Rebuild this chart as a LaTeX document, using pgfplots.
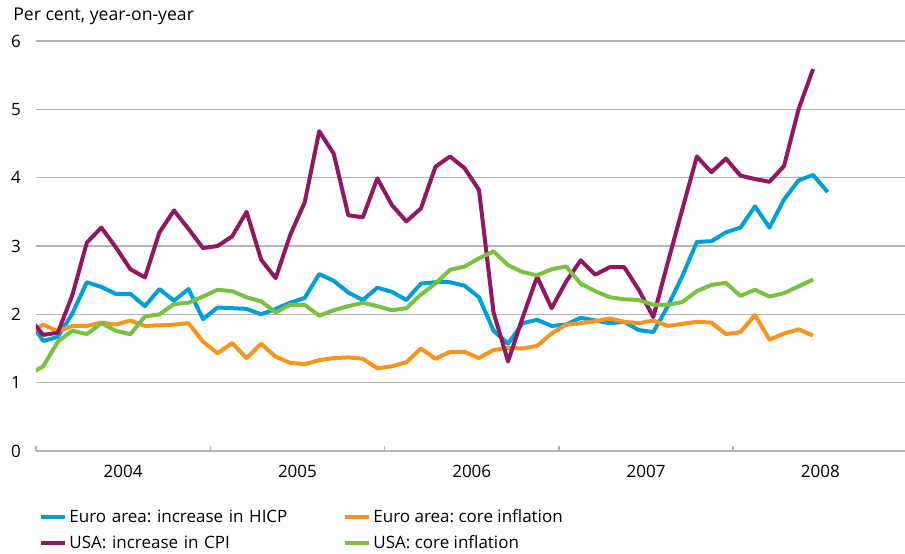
\documentclass[border=0pt]{standalone}
\usepackage{fontspec}
\setmainfont{Open Sans}
\usepackage{pgfplots}
\pgfplotsset{compat=1.18}
\definecolor{cblue}{RGB}{0,159,218}
\definecolor{cpurple}{RGB}{145,24,94}
\definecolor{corange}{RGB}{247,148,29}
\definecolor{cgreen}{RGB}{122,193,67}
\definecolor{cgrid}{RGB}{180,180,180}
\frenchspacing
\begin{document}
\begin{tikzpicture}[font=\fontsize{8.5}{10}\selectfont]
\path[use as bounding box] (0,0) rectangle (452.5pt,-276.5pt);
\node[anchor=base west, inner sep=0pt, font=\fontsize{8.8}{10}\selectfont] at (6.5pt,-10pt) {Per cent, year-on-year};
\begin{axis}[
  at={(18pt,-225.5pt)}, anchor=south west,
  scale only axis, width=434.5pt, height=205pt,
  xmin=0.5, xmax=60.33, ymin=0, ymax=6,
  axis lines*=left,
  x axis line style={cgrid, line width=0.75pt},
  y axis line style={draw=none},
  ytick={0,1,2,3,4,5,6},
  ytick style={draw=none},
  ymajorgrids, grid style={cgrid, line width=0.75pt},
  yticklabel style={xshift=-4pt},
  xtick={0.5,12.5,24.5,36.5,48.5},
  xticklabels={},
  xtick align=inside,
  xtick style={cgrid, line width=0.75pt},
  major tick length=2.5pt,
  extra x ticks={6.5,18.5,30.5,42.5,54.5},
  extra x tick labels={2004,2005,2006,2007,2008},
  extra x tick style={major tick length=0pt, xticklabel style={yshift=-3.5pt}},
  /pgf/number format/assume math mode=true,
  every axis plot/.append style={line width=2pt, line join=round, no marks},
  legend columns=2,
  legend cell align=left,
  legend style={at={(0.0035,-0.1366)}, anchor=north west, draw=none, fill=none,
    inner sep=0pt, row sep=3pt, nodes={inner sep=1pt},
    /tikz/column 2/.style={text width=136pt, align=left}},
  legend image code/.code={\draw[#1] (0pt,0pt) -- (12pt,0pt);},
]
\addplot[cblue] coordinates {
(0,1.92)(1,1.61)(2,1.67)(3,2.01)(4,2.47)(5,2.40)(6,2.30)(7,2.30)(8,2.12)(9,2.37)(10,2.20)(11,2.37)
(12,1.93)(13,2.10)(14,2.09)(15,2.08)(16,2.00)(17,2.08)(18,2.17)(19,2.24)(20,2.59)(21,2.49)(22,2.32)(23,2.21)
(24,2.39)(25,2.33)(26,2.21)(27,2.45)(28,2.47)(29,2.47)(30,2.42)(31,2.25)(32,1.76)(33,1.57)(34,1.87)(35,1.92)
(36,1.83)(37,1.85)(38,1.95)(39,1.91)(40,1.87)(41,1.89)(42,1.77)(43,1.74)(44,2.12)(45,2.56)(46,3.06)(47,3.07)
(48,3.20)(49,3.27)(50,3.58)(51,3.27)(52,3.68)(53,3.96)(54,4.04)(55,3.79)};
\addlegendentry{Euro area: increase in HICP}
\addplot[corange] coordinates {
(0,1.72)(1,1.85)(2,1.75)(3,1.83)(4,1.83)(5,1.88)(6,1.85)(7,1.91)(8,1.83)(9,1.84)(10,1.85)(11,1.87)
(12,1.60)(13,1.43)(14,1.58)(15,1.36)(16,1.57)(17,1.38)(18,1.29)(19,1.27)(20,1.33)(21,1.36)(22,1.37)(23,1.35)
(24,1.21)(25,1.24)(26,1.30)(27,1.50)(28,1.35)(29,1.45)(30,1.45)(31,1.36)(32,1.48)(33,1.51)(34,1.50)(35,1.54)
(36,1.72)(37,1.85)(38,1.87)(39,1.90)(40,1.94)(41,1.89)(42,1.87)(43,1.91)(44,1.83)(45,1.86)(46,1.89)(47,1.88)
(48,1.71)(49,1.74)(50,1.99)(51,1.63)(52,1.72)(53,1.78)(54,1.69)};
\addlegendentry{Euro area: core inflation}
\addplot[cpurple] coordinates {
(0,1.95)(1,1.70)(2,1.73)(3,2.28)(4,3.05)(5,3.27)(6,2.98)(7,2.66)(8,2.54)(9,3.20)(10,3.52)(11,3.25)
(12,2.97)(13,3.00)(14,3.14)(15,3.50)(16,2.80)(17,2.53)(18,3.16)(19,3.64)(20,4.68)(21,4.35)(22,3.45)(23,3.42)
(24,3.99)(25,3.60)(26,3.36)(27,3.55)(28,4.16)(29,4.31)(30,4.14)(31,3.82)(32,2.03)(33,1.31)(34,1.95)(35,2.55)
(36,2.09)(37,2.48)(38,2.79)(39,2.58)(40,2.69)(41,2.69)(42,2.36)(43,1.96)(44,2.76)(45,3.54)(46,4.31)(47,4.08)
(48,4.28)(49,4.03)(50,3.98)(51,3.94)(52,4.17)(53,5.00)(54,5.59)};
\addlegendentry{USA: increase in CPI}
\addplot[cgreen] coordinates {
(0,1.12)(1,1.24)(2,1.60)(3,1.76)(4,1.71)(5,1.87)(6,1.76)(7,1.71)(8,1.97)(9,2.00)(10,2.15)(11,2.17)
(12,2.26)(13,2.36)(14,2.34)(15,2.25)(16,2.19)(17,2.03)(18,2.14)(19,2.14)(20,1.98)(21,2.06)(22,2.12)(23,2.17)
(24,2.12)(25,2.06)(26,2.09)(27,2.29)(28,2.45)(29,2.65)(30,2.70)(31,2.82)(32,2.92)(33,2.72)(34,2.62)(35,2.57)
(36,2.66)(37,2.70)(38,2.45)(39,2.34)(40,2.25)(41,2.22)(42,2.21)(43,2.14)(44,2.14)(45,2.18)(46,2.34)(47,2.43)
(48,2.46)(49,2.27)(50,2.36)(51,2.26)(52,2.31)(53,2.41)(54,2.51)};
\addlegendentry{USA: core inflation}
\end{axis}
\end{tikzpicture}
\end{document}
